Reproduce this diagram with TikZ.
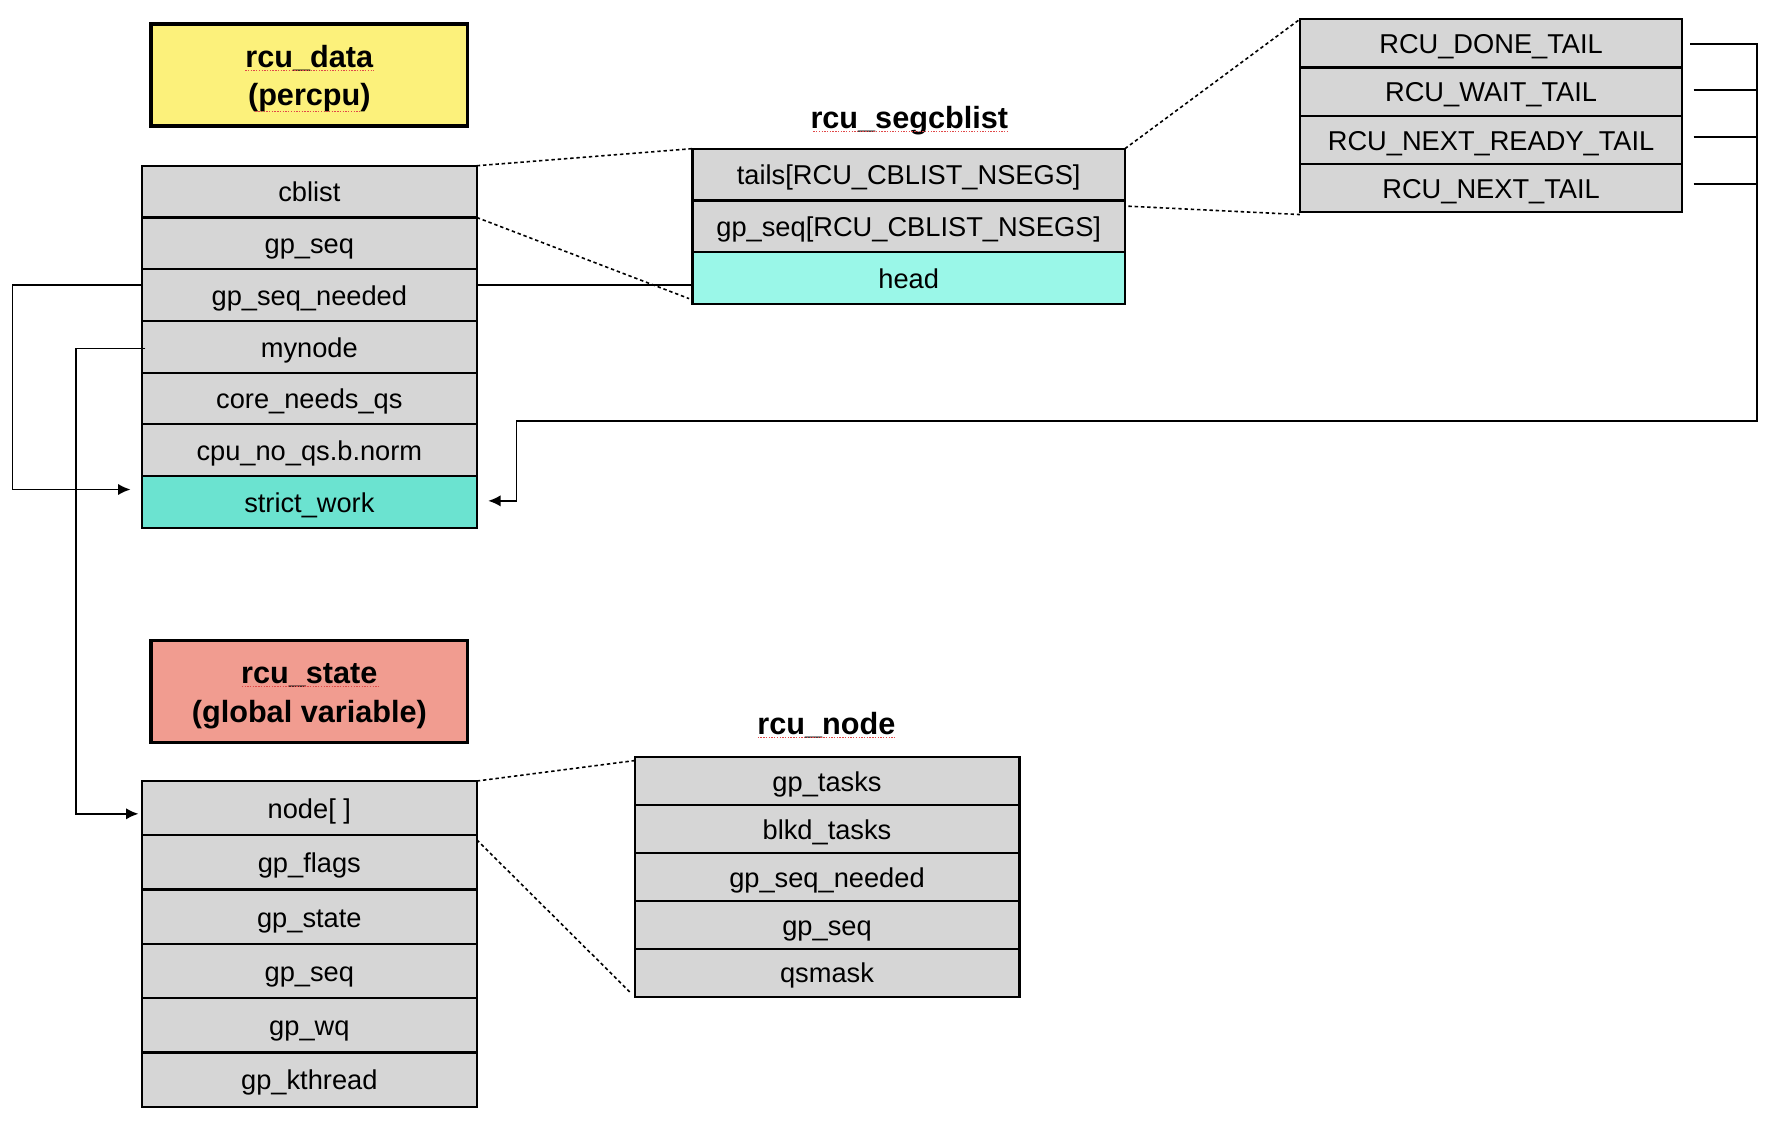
\documentclass[tikz,border=0pt]{standalone}
\usepackage{fontspec}
\setmainfont{Liberation Sans}
\usetikzlibrary{arrows.meta,calc}
\definecolor{cellgray}{HTML}{D6D6D6}
\definecolor{ylw}{HTML}{FCF17B}
\definecolor{salmon}{HTML}{F19C90}
\definecolor{tealA}{HTML}{6BE3D0}
\definecolor{cyanA}{HTML}{9AF7E8}
\definecolor{spellred}{HTML}{E04848}
\begin{document}
\begin{tikzpicture}[x=1pt,y=-1pt,
  cell/.style={draw=black, line width=1.9pt, fill=cellgray, inner sep=0pt, outer sep=0pt,
    font=\fontsize{24}{28}\selectfont, text height=18pt, text depth=0pt},
  tabA/.style={cell, minimum width=295pt, minimum height=45.6pt},
  tabG/.style={cell, minimum width=381pt, minimum height=45.7pt},
  tabT/.style={cell, minimum width=337pt, minimum height=42.5pt},
  tabS/.style={cell, minimum width=295pt, minimum height=47.8pt},
  tabN/.style={cell, minimum width=339pt, minimum height=42.2pt},
  titlebox/.style={draw=black, line width=3pt, minimum width=279pt, minimum height=90pt, inner sep=0pt},
  titletext/.style={anchor=base, inner sep=0pt, font=\fontsize{27}{34}\selectfont\bfseries},
  conn/.style={draw=black, line width=1.6pt},
  arrow/.style={conn, -{Latex[length=11pt,width=10pt]}},
  dots/.style={draw=black, line width=1.4pt, dash pattern=on 3pt off 2.5pt},
  spell/.style={draw=spellred, line width=1.2pt, dash pattern=on 1.2pt off 1.2pt},
]
\useasboundingbox (0,0) rectangle (1568,990);

% ---- rcu_data ----
\node[titlebox, fill=ylw] (datatitle) at (272.5,66) {};
\node[titletext] (datalabelA) at (272.5,59.5) {rcu\_data};
\node[titletext] (datalabelB) at (272.5,93) {(percpu)};
\node[tabA] (d1) at (272.5,168.8) {cblist};
\node[tabA] (d2) at (272.5,214.4) {gp\_seq};
\node[tabA] (d3) at (272.5,259.9) {gp\_seq\_needed};
\node[tabA] (d4) at (272.5,305.5) {mynode};
\node[tabA] (d5) at (272.5,351.1) {core\_needs\_qs};
\node[tabA] (d6) at (272.5,396.6) {cpu\_no\_qs.b.norm};
\node[tabA, fill=tealA] (d7) at (272.5,442.2) {strict\_work};

% ---- rcu_segcblist ----
\node[titletext] (segtitle) at (801,113.5) {rcu\_segcblist};
\node[tabG] (g1) at (800.5,153.8) {tails[RCU\_CBLIST\_NSEGS]};
\node[tabG] (g2) at (800.5,199.5) {gp\_seq[RCU\_CBLIST\_NSEGS]};
\node[tabG, fill=cyanA] (g3) at (800.5,245.2) {head};

% ---- tails ----
\node[tabT] (t1) at (1313.5,38.25) {RCU\_DONE\_TAIL};
\node[tabT] (t2) at (1313.5,80.75) {RCU\_WAIT\_TAIL};
\node[tabT] (t3) at (1313.5,123.25) {RCU\_NEXT\_READY\_TAIL};
\node[tabT] (t4) at (1313.5,165.75) {RCU\_NEXT\_TAIL};

% ---- rcu_state ----
\node[titlebox, fill=salmon] (statetitle) at (272.5,609) {};
\node[titletext] (statelabelA) at (272.5,602.5) {rcu\_state};
\node[titletext] (statelabelB) at (272.5,636.5) {(global variable)};
\node[tabS] (s1) at (272.5,711.9) {node[ ]};
\node[tabS] (s2) at (272.5,759.7) {gp\_flags};
\node[tabS] (s3) at (272.5,807.6) {gp\_state};
\node[tabS] (s4) at (272.5,855.4) {gp\_seq};
\node[tabS] (s5) at (272.5,903.2) {gp\_wq};
\node[tabS] (s6) at (272.5,951.1) {gp\_kthread};

% ---- rcu_node ----
\node[titletext] (nodetitle) at (728,647) {rcu\_node};
\node[tabN] (n1) at (728.5,688.1) {gp\_tasks};
\node[tabN] (n2) at (728.5,730.3) {blkd\_tasks};
\node[tabN] (n3) at (728.5,772.5) {gp\_seq\_needed};
\node[tabN] (n4) at (728.5,814.7) {gp\_seq};
\node[tabN] (n5) at (728.5,856.9) {qsmask};

% ---- spell-check underlines ----
\draw[spell] (216,62) -- (329,62);
\draw[spell] (225,98) -- (317,98);
\draw[spell] (716.5,116) -- (887.5,116);
\draw[spell] (213,605) -- (334,605);
\draw[spell] (667.5,649.5) -- (788,649.5);

% ---- dotted zoom lines ----
\draw[dots] (d1.north east) -- (g1.north west);
\draw[dots] (d1.south east) -- ($(g3.south west)+(-3,-5)$);
\draw[dots] (g1.north east) -- (t1.north west);
\draw[dots] ($(g1.south east)+(3,5)$) -- ($(t4.south west)+(0,2)$);
\draw[dots] (s1.north east) -- ($(n1.north west)+(0,3)$);
\draw[dots] ($(s1.south east)+(0,4)$) -- ($(n5.south west)+(-3,-3)$);

% ---- connectors ----
\draw[conn] ($(d3.east)+(0,-9)$) coordinate (gsnR) -- (gsnR -| g3.west);
\draw[arrow] ($(d3.west)+(0,-9)$) -- ++(-114,0) |- ($(d7.west)+(-10,-11)$);
\draw[arrow] ($(d4.west)+(3,1.5)$) -- ++(-61,0) |- ($(s1.west)+(-3,5)$);
\draw[arrow] ($(t1.east)+(7,0.75)$) -- ++(59,0) -- ++(0,332) -| ($(d7.east)+(35,-1)$) -- ($(d7.east)+(10,-1)$);
\draw[conn] ($(t2.east)+(10,-1.75)$) -- ++(56,0);
\draw[conn] ($(t3.east)+(10,-2.25)$) -- ++(56,0);
\draw[conn] ($(t4.east)+(10,-3.75)$) -- ++(56,0);
\end{tikzpicture}
\end{document}
